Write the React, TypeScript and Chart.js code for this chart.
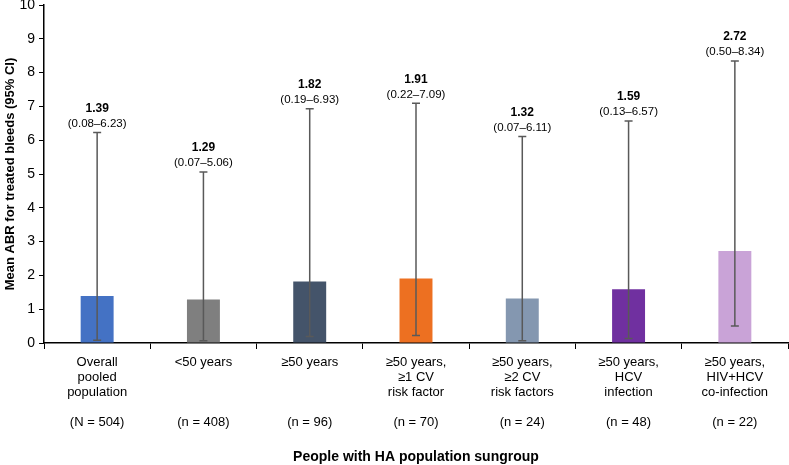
import React, { useEffect, useRef } from "react";
import { Chart, registerables } from "chart.js";

Chart.register(...registerables);

const categories: string[][] = [
  ["Overall", "pooled", "population", "", "(N = 504)"],
  ["<50 years", "", "", "", "(n = 408)"],
  ["≥50 years", "", "", "", "(n = 96)"],
  ["≥50 years,", "≥1 CV", "risk factor", "", "(n = 70)"],
  ["≥50 years,", "≥2 CV", "risk factors", "", "(n = 24)"],
  ["≥50 years,", "HCV", "infection", "", "(n = 48)"],
  ["≥50 years,", "HIV+HCV", "co-infection", "", "(n = 22)"],
];
const means: number[] = [1.39, 1.29, 1.82, 1.91, 1.32, 1.59, 2.72];
const ciLow: number[] = [0.08, 0.07, 0.19, 0.22, 0.07, 0.13, 0.5];
const ciHigh: number[] = [6.23, 5.06, 6.93, 7.09, 6.11, 6.57, 8.34];
const barColors: string[] = ["#4472C4", "#7F7F7F", "#44546A", "#ED7021", "#8497B0", "#7030A0", "#C9A3D7"];
const yTicks: number[] = [0, 1, 2, 3, 4, 5, 6, 7, 8, 9, 10];

const FONT = "'Liberation Sans', Arial, sans-serif";

const errorBarPlugin = {
  id: "errorBars",
  afterDatasetsDraw(chart: any) {
    const ctx = chart.ctx;
    const meta = chart.getDatasetMeta(0);
    const y = chart.scales.y;
    ctx.save();
    meta.data.forEach((bar: any, i: number) => {
      const x = bar.x;
      const yh = y.getPixelForValue(ciHigh[i]);
      const yl = y.getPixelForValue(ciLow[i]);
      ctx.strokeStyle = "#595959";
      ctx.lineWidth = 1.5;
      ctx.beginPath();
      ctx.moveTo(x, yh);
      ctx.lineTo(x, yl);
      ctx.moveTo(x - 4, yh);
      ctx.lineTo(x + 4, yh);
      ctx.moveTo(x - 4, yl);
      ctx.lineTo(x + 4, yl);
      ctx.stroke();
      ctx.fillStyle = "#000";
      ctx.textAlign = "center";
      ctx.textBaseline = "middle";
      ctx.font = `11.5px ${FONT}`;
      ctx.fillText(`(${ciLow[i].toFixed(2)}–${ciHigh[i].toFixed(2)})`, x, yh - 9);
      ctx.font = `bold 12px ${FONT}`;
      ctx.fillText(means[i].toFixed(2), x, yh - 24);
    });
    ctx.restore();
  },
};

export default function App() {
  const ref = useRef<HTMLCanvasElement>(null);
  useEffect(() => {
    document.body.style.margin = "0";
    const chart = new Chart(ref.current as HTMLCanvasElement, {
      type: "bar",
      data: {
        labels: categories,
        datasets: [
          {
            data: means,
            backgroundColor: barColors,
            borderWidth: 0,
            barPercentage: 0.62,
            categoryPercentage: 0.5,
          },
        ],
      },
      plugins: [errorBarPlugin],
      options: {
        animation: false,
        responsive: false,
        maintainAspectRatio: false,
        layout: { padding: { top: 5, right: 1, left: 0, bottom: 0 } },
        plugins: { legend: { display: false }, tooltip: { enabled: false } },
        scales: {
          x: {
            afterFit(scale: any) {
              scale.height = 122;
              scale.paddingLeft = 0;
              scale.paddingRight = 0;
            },
            grid: {
              display: true,
              drawOnChartArea: false,
              drawTicks: true,
              tickLength: 6,
              color: "#000",
              offset: true,
            },
            border: { display: true, color: "#000", width: 1.5 },
            ticks: {
              color: "#000",
              font: { family: FONT, size: 13, lineHeight: 1.15 },
              padding: 6,
              maxRotation: 0,
              autoSkip: false,
            },
            title: {
              display: true,
              text: "People with HA population sungroup",
              color: "#000",
              font: { family: FONT, size: 14, weight: "bold" },
              padding: { top: 0, bottom: -1 },
            },
          },
          y: {
            min: 0,
            max: 10,
            afterFit(scale: any) {
              scale.width = 44;
              scale.paddingTop = 0;
              scale.paddingBottom = 0;
            },
            afterBuildTicks(scale: any) {
              scale.ticks = yTicks.map((v) => ({ value: v }));
            },
            grid: {
              display: true,
              drawOnChartArea: false,
              drawTicks: true,
              tickLength: 5,
              color: "#000",
            },
            border: { display: true, color: "#000", width: 1.5 },
            ticks: {
              color: "#000",
              font: { family: FONT, size: 14 },
              padding: 4,
            },
            title: {
              display: true,
              text: "Mean ABR for treated bleeds (95% CI)",
              color: "#000",
              font: { family: FONT, size: 13, weight: "bold" },
              padding: { top: 3, bottom: 0 },
            },
          },
        },
      } as any,
    });
    return () => chart.destroy();
  }, []);
  return <canvas ref={ref} width={789} height={465} style={{ display: "block" }} />;
}
